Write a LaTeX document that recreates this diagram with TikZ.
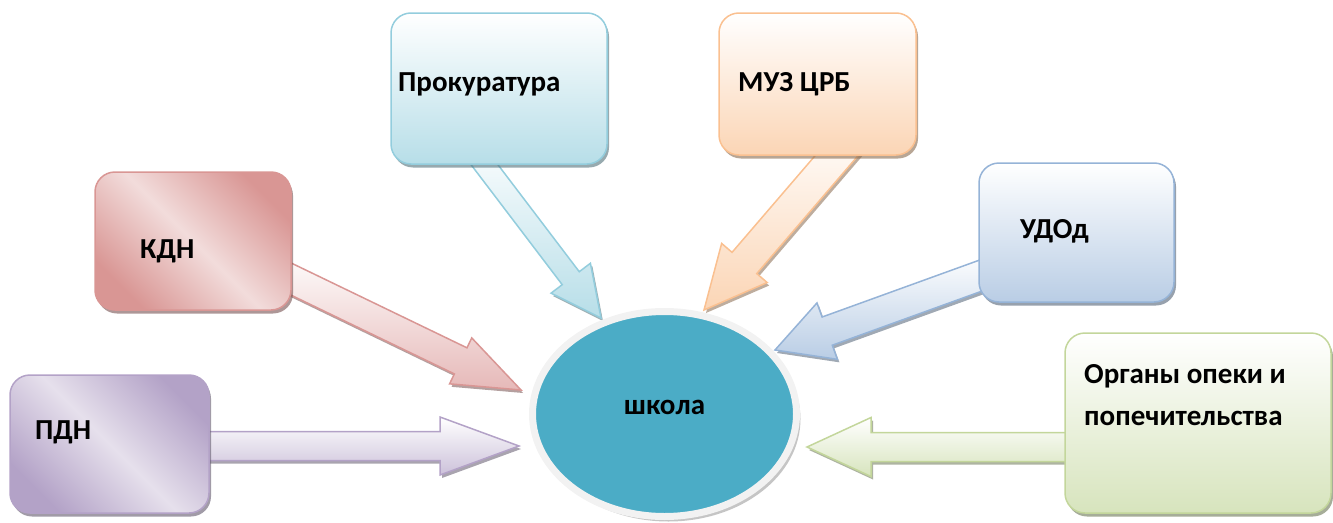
\documentclass[tikz,border=0pt]{standalone}
\usepackage{fontspec}
\setmainfont{Carlito}
\usetikzlibrary{calc,shapes.geometric,shadows,backgrounds}

\definecolor{prokline}{HTML}{93CDDD}
\definecolor{prokfill}{HTML}{B7DEE8}
\definecolor{muzline}{HTML}{FAC090}
\definecolor{muzfill}{HTML}{FBD5B5}
\definecolor{kdnline}{HTML}{D99694}
\definecolor{kdnfill}{HTML}{E6B9B8}
\definecolor{kdnlight}{HTML}{F2DCDB}
\definecolor{udodline}{HTML}{95B3D7}
\definecolor{udodfill}{HTML}{B9CDE5}
\definecolor{pdnline}{HTML}{B3A2C7}
\definecolor{pdnfill}{HTML}{CCC1DA}
\definecolor{pdnlight}{HTML}{E6E0EC}
\definecolor{organline}{HTML}{C3D69B}
\definecolor{organfill}{HTML}{D7E4BD}
\definecolor{schoolfill}{HTML}{4BACC6}
\definecolor{schoolring}{HTML}{F2F2F2}

%% block arrow: style, from, to, shaft half width, head half width, head length
\newcommand{\blockarrow}[6]{%
  \coordinate (ba-s) at (#2);
  \coordinate (ba-t) at (#3);
  \coordinate (ba-h) at ($(ba-t)!#6!(ba-s)$);
  \path[#1] ($(ba-s)!#4!90:(ba-t)$) -- ($(ba-h)!#4!90:(ba-t)$)
    -- ($(ba-h)!#5!90:(ba-t)$) -- (ba-t) -- ($(ba-h)!#5!-90:(ba-t)$)
    -- ($(ba-h)!#4!-90:(ba-t)$) -- ($(ba-s)!#4!-90:(ba-t)$) -- cycle;
}

\tikzset{
  boxbase/.style={draw=#1line, line width=1.5pt, rounded corners=20pt,
    drop shadow={shadow xshift=2pt, shadow yshift=-3.5pt, fill=#1line!55!black, opacity=0.6}},
  orgbox/.style={boxbase=#1, top color=white, bottom color=#1fill},
  diagbox/.style={boxbase=#1, left color=#1line, right color=#1line,
    middle color=#1light, shading angle=135},
  arr/.style={draw=#1line, line width=1.5pt, top color=white, bottom color=#1fill,
    drop shadow={shadow xshift=2pt, shadow yshift=-3pt, fill=#1line!55!black, opacity=0.55}},
  school/.style={ellipse, draw=schoolring, line width=7pt, fill=schoolfill,
    minimum width=264pt, minimum height=205pt, inner sep=0pt,
    drop shadow={shadow xshift=4pt, shadow yshift=-5pt, fill=black!45, opacity=0.5}},
  lbl/.style={font=\bfseries\fontsize{29}{42}\selectfont, inner sep=0pt,
    anchor=base west, align=left}
}

\begin{document}
\begin{tikzpicture}[x=1pt, y=-1pt]
  \useasboundingbox (0,0) rectangle (1333,522);

  %% centre
  \node[school] (school) at (664.5,414) {};
  \node[lbl, anchor=base] (school-t) at (school.center) {школа};

  %% boxes
  \node[orgbox=prok, minimum width=216pt, minimum height=151pt] (prok) at (499,88.5) {};
  \node[orgbox=muz, minimum width=197pt, minimum height=142pt] (muz) at (817.5,84) {};
  \node[diagbox=kdn, minimum width=196pt, minimum height=138pt] (kdn) at (193,241) {};
  \node[orgbox=udod, minimum width=195pt, minimum height=139pt] (udod) at (1076.5,232.5) {};
  \node[diagbox=pdn, minimum width=199pt, minimum height=138pt] (pdn) at (109.5,444) {};
  \node[orgbox=organ, minimum width=266pt, minimum height=180pt] (organ) at (1198,423) {};

  %% labels
  \node[lbl] (prok-t) at (398,91) {Прокуратура};
  \node[lbl] (muz-t) at (738,91) {МУЗ ЦРБ};
  \node[lbl] (kdn-t) at (140,258) {КДН};
  \node[lbl] (udod-t) at (1020,238) {УДОд};
  \node[lbl] (pdn-t) at (35,439) {ПДН};
  \node[lbl] (organ-t) at (1084,425) {Органы опеки и\\попечительства};

  %% arrows
  \begin{pgfonlayer}{background}
    \blockarrow{arr=pdn}{$(pdn.east)+(-30,2)$}{$(school.center)+(-145.5,32)$}{14.5pt}{29pt}{79pt}
    \blockarrow{arr=kdn}{$(kdn.east)+(-36,21)$}{$(school.center)+(-143.5,-24)$}{14.5pt}{25.5pt}{67pt}
    \blockarrow{arr=prok}{$(prok.south)+(-32.7,-24)$}{$(school.center)+(-63.5,-96)$}{10.7pt}{24.7pt}{50pt}
    \blockarrow{arr=muz}{$(muz.south)+(40.5,-25)$}{$(school.center)+(39.5,-104)$}{16.3pt}{30pt}{62pt}
    \blockarrow{arr=udod}{$(udod.west)+(29,33.5)$}{$(school.center)+(110.5,-64)$}{15pt}{30pt}{55.5pt}
    \blockarrow{arr=organ}{$(organ.west)+(30,24)$}{$(school.center)+(142.5,33)$}{14.5pt}{29.5pt}{64pt}
  \end{pgfonlayer}
\end{tikzpicture}
\end{document}
